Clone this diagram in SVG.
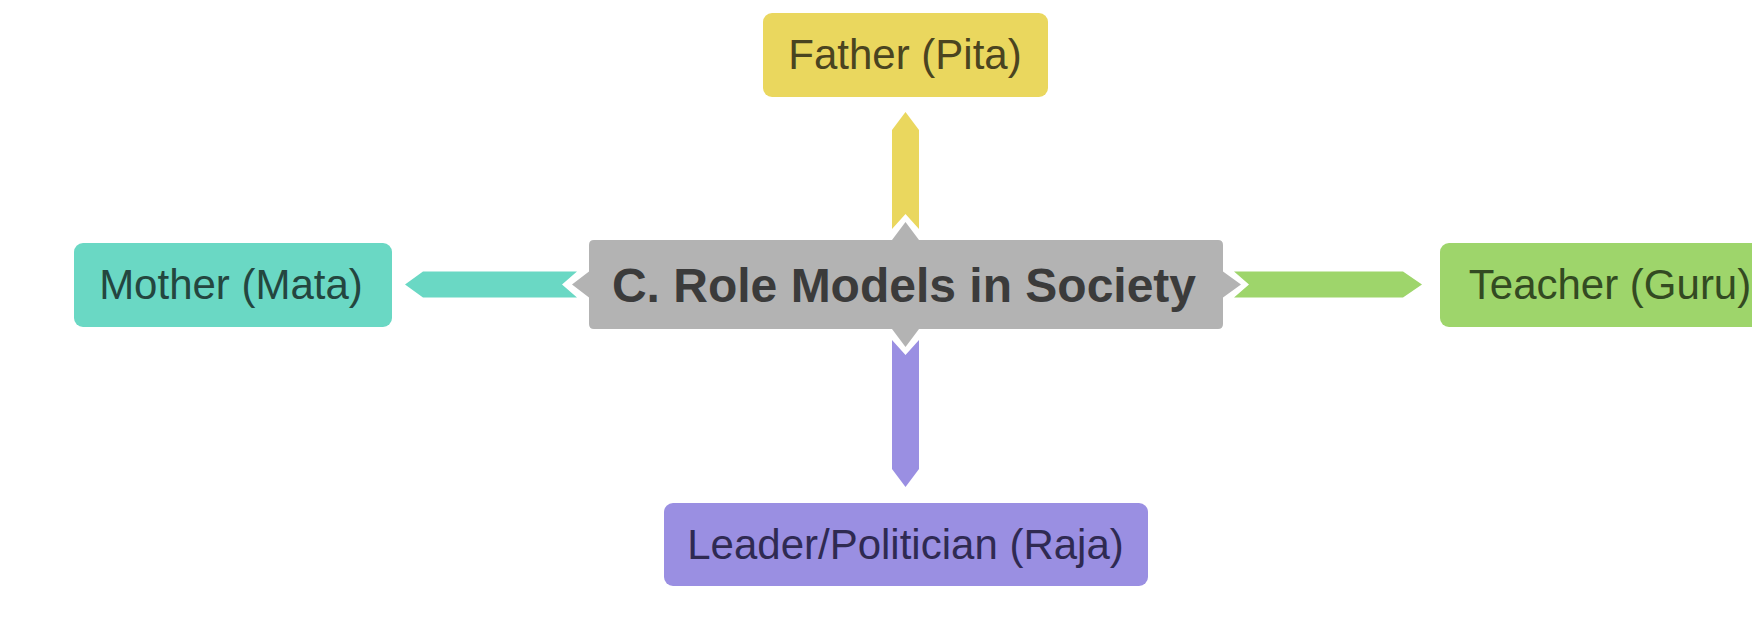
<svg xmlns="http://www.w3.org/2000/svg" width="1752" height="631" viewBox="0 0 1752 631">
<style>
.lbl{font-family:"Liberation Sans",Arial,sans-serif;font-size:42px;text-anchor:middle}
.ctr{font-family:"Liberation Sans",Arial,sans-serif;font-size:48px;font-weight:bold;text-anchor:middle;fill:#3b3b3b}
</style>
<rect width="1752" height="631" fill="#ffffff"/>
<g id="connectors">
<path d="M905.5,112 L919,130 L919,229 L905.5,214 L892,229 L892,130 Z" fill="#EAD75E"/>
<path d="M892,340 L905.5,355 L919,340 L919,469 L905.5,487 L892,469 Z" fill="#9A8FE2"/>
<path d="M577,271.5 L562,284.5 L577,297.5 L423,297.5 L405,284.5 L423,271.5 Z" fill="#6AD8C4"/>
<path d="M1234,271.5 L1403,271.5 L1422,284.5 L1403,297.5 L1234,297.5 L1249,284.5 Z" fill="#9ED56B"/>
</g>
<g id="node-center">
<path d="M594,240 L892,240 L905.5,222 L919,240 L1218,240 Q1223,240 1223,245 L1223,271.5 L1241,284.5 L1223,297.5 L1223,324 Q1223,329 1218,329 L919,329 L905.5,347 L892,329 L594,329 Q589,329 589,324 L589,297.5 L572,284.5 L589,271.5 L589,245 Q589,240 594,240 Z" fill="#B3B3B3" stroke="#ffffff" stroke-width="6" stroke-linejoin="miter" paint-order="stroke"/>
<text class="ctr" x="904" y="302">C. Role Models in Society</text>
</g>
<g id="node-father">
<rect x="763" y="13" width="285" height="84" rx="9" fill="#EAD75E"/>
<text class="lbl" x="905" y="69" fill="#4a4420">Father (Pita)</text>
</g>
<g id="node-mother">
<rect x="74" y="243" width="318" height="84" rx="9" fill="#6AD8C4"/>
<text class="lbl" x="231" y="299" fill="#24463f">Mother (Mata)</text>
</g>
<g id="node-teacher">
<rect x="1440" y="243" width="345" height="84" rx="9" fill="#9ED56B"/>
<text class="lbl" x="1610" y="299" fill="#334a22">Teacher (Guru)</text>
</g>
<g id="node-leader">
<rect x="664" y="503" width="484" height="83" rx="9" fill="#9A8FE2"/>
<text class="lbl" x="905.5" y="559" fill="#2f2a52">Leader/Politician (Raja)</text>
</g>
</svg>
